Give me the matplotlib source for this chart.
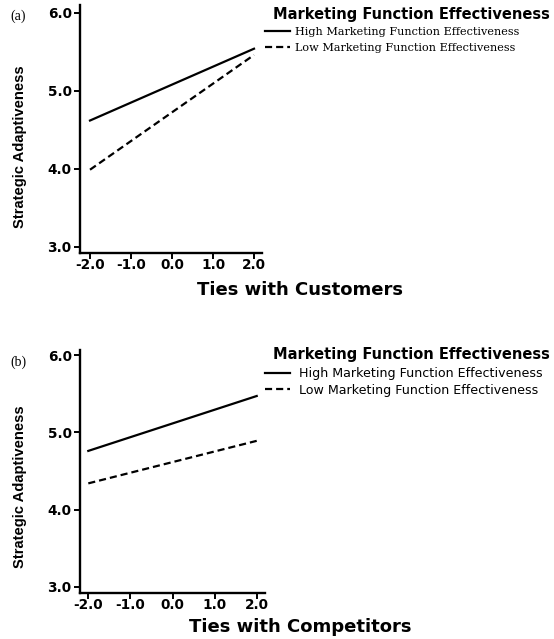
import matplotlib
matplotlib.use('Agg')
import matplotlib.pyplot as plt

# simple slopes: predicted strategic adaptiveness at -2 SD and +2 SD of ties
x_levels = [-2.0, 2.0]
customers_high = [4.62, 5.54]
customers_low = [3.99, 5.46]
competitors_high = [4.76, 5.47]
competitors_low = [4.34, 4.89]

x_ticks = [-2.0, -1.0, 0.0, 1.0, 2.0]
y_ticks = [3.0, 4.0, 5.0, 6.0]
series_labels = ['High Marketing Function Effectiveness',
                 'Low Marketing Function Effectiveness']
legend_title = 'Marketing Function Effectiveness'
y_label = 'Strategic Adaptiveness'

W, H = 554, 639
fig = plt.figure(figsize=(W / 100, H / 100), dpi=100)


def px_axes(left, top, right, bottom):
    return fig.add_axes([left / W, 1 - bottom / H, (right - left) / W, (bottom - top) / H])


def style_axes(ax, xlim, ylim):
    ax.set_xlim(*xlim)
    ax.set_ylim(*ylim)
    ax.set_xticks(x_ticks)
    ax.set_yticks(y_ticks)
    ax.set_xticklabels([f'{v:.1f}' for v in x_ticks])
    ax.set_yticklabels([f'{v:.1f}' for v in y_ticks])
    for s in ('top', 'right'):
        ax.spines[s].set_visible(False)
    for s in ('left', 'bottom'):
        ax.spines[s].set_linewidth(1.7)
    ax.tick_params(direction='out', length=4, width=1.4)
    ax.tick_params(axis='x', pad=-0.5)
    ax.tick_params(axis='y', pad=2)
    for lab in ax.get_xticklabels() + ax.get_yticklabels():
        lab.set_fontfamily('DejaVu Sans')
        lab.set_fontweight('bold')
        lab.set_fontsize(9.8)


def panel(ax, high, low, xlabel, tag, tag_y, label_y, legend_y, legend_font, text_x,
          entry_top, spacing, xlabel_y):
    ax.plot(x_levels, high, color='black', lw=1.6, label=series_labels[0])
    ax.plot(x_levels, low, color='black', lw=1.6, dashes=(3.2, 1.8), label=series_labels[1])
    fig.text(300 / W, 1 - xlabel_y / H, xlabel, ha='center', va='center',
             fontsize=13, fontweight='bold', family='DejaVu Sans')
    fig.text(20 / W, 1 - label_y / H, y_label, rotation=90, ha='center', va='center',
             fontsize=10.6, fontweight='bold', family='Liberation Sans')
    fig.text(10 / W, 1 - tag_y / H, tag, ha='left', va='center',
             fontsize=10, family='Liberation Serif')
    fig.text(273 / W, 1 - legend_y / H, legend_title, ha='left', va='center',
             fontsize=10.5, fontweight='bold', family='DejaVu Sans')
    size = legend_font['size']
    handle_pt = 25 / 100 * 72
    gap_pt = (text_x - 290) / 100 * 72
    leg = ax.legend(loc='upper left', bbox_to_anchor=(265 / W, 1 - entry_top / H),
                    bbox_transform=fig.transFigure, frameon=False,
                    handlelength=handle_pt / size, handletextpad=gap_pt / size,
                    labelspacing=spacing, borderpad=0, borderaxespad=0, prop=legend_font)
    for ln in leg.get_lines():
        ln.set_linewidth(1.6)


ax1 = px_axes(80, 5, 262, 253)
style_axes(ax1, (-2.244, 2.195), (2.923, 6.10))
panel(ax1, customers_high, customers_low, 'Ties with Customers', '(a)', 16, 147, 14,
      {'family': 'DejaVu Serif', 'size': 8.1}, 295, 27, 0.55, 290)

ax2 = px_axes(80, 350, 265, 593)
style_axes(ax2, (-2.197, 2.197), (2.922, 6.065))
panel(ax2, competitors_high, competitors_low, 'Ties with Competitors', '(b)', 362, 487, 355,
      {'family': 'DejaVu Sans', 'size': 9.1}, 299, 367, 0.28, 627)

fig.savefig('out.png', dpi=100)
